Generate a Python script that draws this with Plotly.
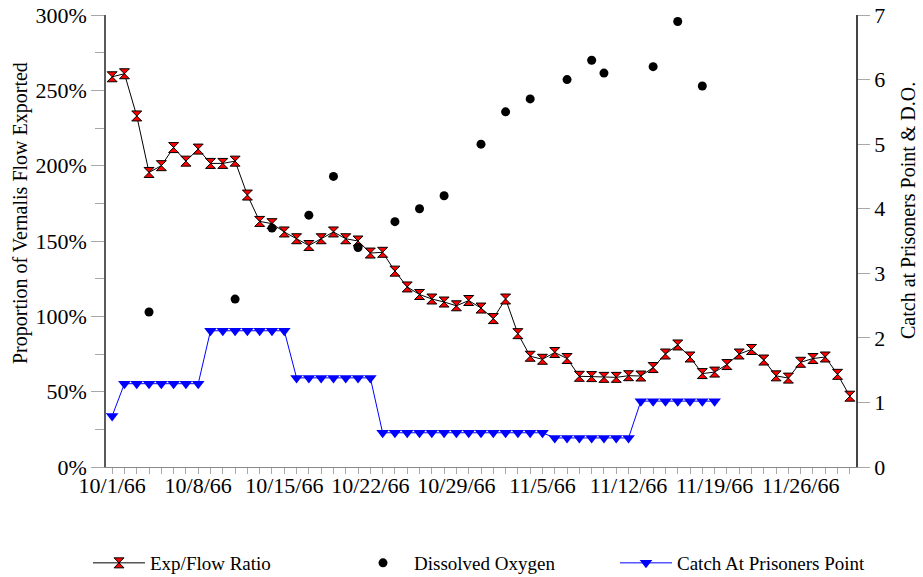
import pandas as pd
import plotly.graph_objects as go

# ---- data ----
dates = [d.strftime("%Y-%m-%d") for d in pd.date_range("1966-10-01", "1966-11-30", freq="D")]

exp_flow_ratio = [
    259, 261, 233, 195.5, 200, 212, 203, 211, 201.5, 201.5,
    203, 180.5, 163, 161.5, 156, 151.5, 147, 151.5, 156, 151.5,
    150, 142, 142.5, 130, 119.5, 114.5, 111.5, 109.5, 107, 110.5,
    105.5,
    98.5, 111.5, 88.5, 73.5, 71.5, 76, 72, 60.2, 60, 59.5,
    59.5, 60.6, 60.4, 66, 75, 81, 73, 62, 63, 68,
    75, 78, 71, 60.5, 59, 69.5, 72, 73, 61.5, 47,
]

do_dates = ["1966-10-04", "1966-10-11", "1966-10-14", "1966-10-17", "1966-10-19",
            "1966-10-21", "1966-10-24", "1966-10-26", "1966-10-28", "1966-10-31",
            "1966-11-02", "1966-11-04", "1966-11-07", "1966-11-09", "1966-11-10",
            "1966-11-14", "1966-11-16", "1966-11-18"]
dissolved_oxygen = [2.4, 2.6, 3.7, 3.9, 4.5, 3.4, 3.8, 4.0, 4.2, 5.0,
                    5.5, 5.7, 6.0, 6.3, 6.1, 6.2, 6.9, 5.9]

catch_prisoners_point = (
    [0.79]
    + [1.29] * 7
    + [2.11] * 7
    + [1.38] * 7
    + [0.53] * 14
    + [0.45] * 7
    + [1.02] * 7
)
catch_dates = dates[:len(catch_prisoners_point)]

tick_labels = ["10/1/66", "10/8/66", "10/15/66", "10/22/66", "10/29/66",
               "11/5/66", "11/12/66", "11/19/66", "11/26/66"]
tick_text = [tick_labels[i // 7] if i % 7 == 0 else "" for i in range(len(dates))]

left_title = "Proportion of Vernalis Flow Exported"
right_title = "Catch at Prisoners Point &amp; D.O."

# ---- style ----
FONT = "Liberation Serif, Times New Roman, serif"
TICKC = "#a8a8a8"
xrange_ = ["1966-09-30 12:00", "1966-11-30 12:00"]
W, H = 923, 577
LEG_TOP = (H - 544) / H


def leg(x_px):
    return dict(orientation="h", xref="container", yref="container",
                x=x_px / W, xanchor="left", y=LEG_TOP, yanchor="top",
                itemwidth=52, font=dict(family=FONT, size=19),
                bgcolor="rgba(0,0,0,0)")


fig = go.Figure()
fig.add_trace(go.Scatter(
    x=dates, y=exp_flow_ratio, name="Exp/Flow Ratio", mode="lines+markers",
    line=dict(color="black", width=1),
    marker=dict(symbol="hourglass", size=10, color="red", line=dict(color="black", width=1)),
    yaxis="y", legend="legend"))
fig.add_trace(go.Scatter(
    x=do_dates, y=dissolved_oxygen, name="Dissolved Oxygen", mode="markers",
    marker=dict(symbol="circle", size=9, color="black"),
    yaxis="y2", legend="legend2"))
fig.add_trace(go.Scatter(
    x=catch_dates, y=catch_prisoners_point, name="Catch At Prisoners Point", mode="lines+markers",
    line=dict(color="blue", width=1),
    marker=dict(symbol="triangle-down", size=11, color="blue"),
    yaxis="y2", legend="legend3"))

fig.update_layout(
    width=W, height=H,
    margin=dict(l=106, r=67, t=15, b=110, autoexpand=False),
    paper_bgcolor="white", plot_bgcolor="white",
    font=dict(family=FONT, color="black", size=22),
    showlegend=True,
    legend=leg(88), legend2=leg(352), legend3=leg(615),
    xaxis=dict(type="date", range=xrange_, tickvals=dates, ticktext=tick_text,
               ticks="outside", ticklen=6, tickcolor=TICKC, tickwidth=1,
               showline=True, linecolor="#8a8a8a", linewidth=1,
               showgrid=False, zeroline=False, tickfont=dict(size=22), tickangle=0,
               automargin=False, ticklabelstandoff=-7),
    xaxis2=dict(type="date", overlaying="x", anchor="y", side="bottom", range=xrange_,
                tickvals=dates, ticks="inside", ticklen=8, tickcolor=TICKC,
                showticklabels=False, showline=False, showgrid=False, zeroline=False,
                automargin=False),
    xaxis3=dict(type="date", overlaying="x", anchor="y", side="top", range=xrange_,
                ticks="", showticklabels=False, showline=True, linecolor="#444444",
                showgrid=False, zeroline=False, automargin=False),
    yaxis=dict(range=[0, 300], dtick=50, ticksuffix="%", ticks="outside", ticklen=13,
               tickcolor=TICKC, showline=True, linecolor="#5a5a5a", linewidth=1.5,
               showgrid=False, zeroline=False, automargin=False, ticklabeloverflow="allow",
               minor=dict(dtick=25, ticks="outside", ticklen=9, tickcolor=TICKC, showgrid=False)),
    yaxis3=dict(overlaying="y", anchor="x", side="left", range=[0, 300], dtick=50,
                ticks="inside", ticklen=11, tickcolor=TICKC, showticklabels=False,
                showline=False, showgrid=False, zeroline=False, automargin=False,
                minor=dict(dtick=25, ticks="inside", ticklen=8, tickcolor=TICKC, showgrid=False)),
    yaxis2=dict(overlaying="y", anchor="x", side="right", range=[0, 7], dtick=1,
                ticks="outside", ticklen=12, tickcolor=TICKC,
                showline=True, linecolor="#444444", linewidth=1.5,
                showgrid=False, zeroline=False, automargin=False, ticklabeloverflow="allow"),
    yaxis4=dict(overlaying="y", anchor="x", side="right", range=[0, 7], dtick=1,
                ticks="inside", ticklen=12, tickcolor=TICKC, showticklabels=False,
                showline=False, showgrid=False, zeroline=False, automargin=False),
    annotations=[
        dict(text=left_title, textangle=-90, xref="paper", yref="paper",
             x=(20 - 106) / 750, y=(467 - 213) / 452, xanchor="center", yanchor="middle",
             showarrow=False, font=dict(family=FONT, size=20)),
        dict(text=right_title, textangle=-90, xref="paper", yref="paper",
             x=(908 - 106) / 750, y=(467 - 210) / 452, xanchor="center", yanchor="middle",
             showarrow=False, font=dict(family=FONT, size=20)),
    ],
)

# remove the browser's default 8px page margin so the figure fills the window
fig.write_html("out.html", config={"displayModeBar": False},
               post_script="document.body.style.margin='0px';document.body.style.padding='0px';")
